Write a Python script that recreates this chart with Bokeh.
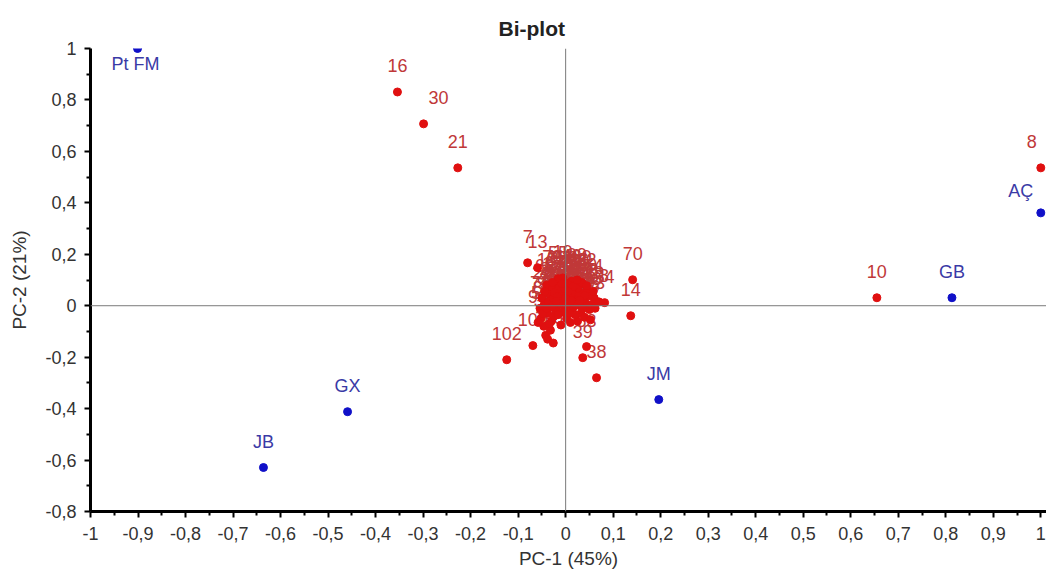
from bokeh.plotting import figure
from bokeh.models import ColumnDataSource, Range1d, FixedTicker, Span
from bokeh.core.properties import value
from bokeh.embed import file_html
from bokeh.resources import INLINE

# ---- variables (loadings), blue ----
var_names = ["Pt FM", "AÇ", "GB", "JM", "GX", "JB"]
var_pc1 = [-0.901, 1.000, 0.813, 0.196, -0.459, -0.636]
var_pc2 = [1.000, 0.361, 0.031, -0.365, -0.412, -0.629]

# ---- observations (scores), red ----
obs_names = [
    "7", "13", "16", "30", "21", "8", "10", "70", "14", "102", "39", "38",
    "1", "2", "3", "4", "5", "6", "9", "11", "12", "15", "17", "18", "19", "20",
    "22", "23", "24", "25", "26", "27", "28", "29", "31", "32", "33", "34", "35",
    "36", "37", "40", "41", "42", "43", "44", "45", "46", "47", "48", "49", "50",
    "51", "52", "53", "54", "55", "56", "57", "58", "59", "60", "61", "62", "63",
    "64", "65", "66", "67", "68", "69", "71", "72", "73", "74", "75", "76", "77",
    "78", "79", "80", "81", "82", "83", "84", "85", "86", "87", "88", "89", "90",
    "91", "92", "93", "94", "95", "96", "97", "98", "99", "100", "101",
]
obs_pc1 = [
    -0.080, -0.059, -0.354, -0.299, -0.227, 1.000, 0.655, 0.141, 0.137, -0.124, 0.036, 0.065,
    -0.012, -0.045, 0.021, -0.030, 0.008, -0.038, 0.035, -0.020, 0.015, -0.040, -0.028, 0.042, -0.006, 0.028,
    -0.050, 0.002, -0.018, 0.050, -0.034, 0.018, -0.008, 0.060, -0.024, 0.010, -0.002, 0.032, -0.046,
    0.025, -0.014, 0.045, -0.036, 0.006, -0.010, 0.038, -0.026, 0.012, -0.042, 0.055, -0.004, 0.030,
    -0.020, 0.020, -0.052, 0.082, -0.016, 0.004, -0.032, 0.048, -0.006, 0.015, -0.030, 0.040, -0.044,
    0.026, -0.012, 0.000, -0.024, 0.070, 0.034, -0.038, 0.010, -0.054, 0.058, -0.002, 0.022, -0.018,
    0.036, -0.028, 0.008, -0.048, 0.044, 0.044, 0.016, -0.034, 0.002, 0.052, -0.020, 0.028, -0.040,
    0.012, -0.008, 0.062, -0.058, 0.006, -0.026, 0.040, -0.016, 0.024, -0.069, 0.030,
]
obs_pc2 = [
    0.167, 0.148, 0.831, 0.707, 0.536, 0.536, 0.031, 0.101, -0.039, -0.210, -0.202, -0.280,
    0.045, 0.005, 0.022, -0.060, 0.072, -0.030, 0.048, 0.090, -0.010, 0.080, 0.065, 0.010, 0.108, 0.080,
    0.030, -0.050, 0.000, -0.015, 0.045, 0.058, 0.020, 0.030, -0.040, 0.035, -0.010, -0.030, -0.080,
    -0.060, 0.070, 0.060, 0.015, 0.010, -0.075, 0.025, 0.030, 0.095, -0.115, 0.005, 0.050, 0.000,
    -0.020, -0.035, -0.050, 0.012, 0.105, 0.085, -0.095, 0.038, -0.025, 0.045, -0.005, -0.045, 0.055,
    0.070, 0.012, 0.030, 0.050, 0.015, 0.090, -0.130, -0.065, -0.010, 0.055, 0.065, 0.005, 0.035,
    -0.012, 0.090, -0.030, -0.030, 0.078, -0.159, 0.075, -0.070, 0.005, -0.055, 0.018, 0.038, -0.010,
    0.020, 0.085, -0.010, -0.065, 0.055, -0.145, 0.040, -0.035, 0.100, -0.155, 0.020,
]

# ---- axis ticks ----
x_ticks = [-1, -0.9, -0.8, -0.7, -0.6, -0.5, -0.4, -0.3, -0.2, -0.1, 0,
           0.1, 0.2, 0.3, 0.4, 0.5, 0.6, 0.7, 0.8, 0.9, 1]
x_tick_labels = ["-1", "-0,9", "-0,8", "-0,7", "-0,6", "-0,5", "-0,4", "-0,3", "-0,2", "-0,1", "0",
                 "0,1", "0,2", "0,3", "0,4", "0,5", "0,6", "0,7", "0,8", "0,9", "1"]
y_ticks = [-0.8, -0.6, -0.4, -0.2, 0, 0.2, 0.4, 0.6, 0.8, 1]
y_tick_labels = ["-0,8", "-0,6", "-0,4", "-0,2", "0", "0,2", "0,4", "0,6", "0,8", "1"]

FONT = "Liberation Sans"
RED_PT, RED_TXT = "#e01010", "#c03838"
BLUE_PT, BLUE_TXT = "#1010c8", "#3a3aa6"

# label offsets (pixels); default sits just above the point
special_offsets = {"Pt FM": (-2, 15), "AÇ": (-20, -22), "8": (-9, -26), "30": (15, -26)}


def offsets(names):
    dx = [special_offsets.get(n, (0, -26))[0] for n in names]
    dy = [special_offsets.get(n, (0, -26))[1] for n in names]
    return dx, dy


odx, ody = offsets(obs_names)
vdx, vdy = offsets(var_names)
obs_src = ColumnDataSource(dict(x=obs_pc1, y=obs_pc2, name=obs_names, dx=odx, dy=ody))
var_src = ColumnDataSource(dict(x=var_pc1, y=var_pc2, name=var_names, dx=vdx, dy=vdy))

p = figure(width=1046, height=576, x_range=Range1d(-1, 1.012), y_range=Range1d(-0.8, 1.0),
           output_backend="svg", toolbar_location=None, title="Bi-plot",
           min_border_left=90, min_border_right=0, min_border_top=48, min_border_bottom=65)
p.outline_line_color = None
p.xgrid.visible = False
p.ygrid.visible = False
p.background_fill_color = "white"
p.border_fill_color = "white"

# chart title
p.title.align = "left"
p.title.offset = 408
p.title.text_font = FONT
p.title.text_font_size = "21px"
p.title.text_font_style = "bold"
p.title.text_color = "#222222"
p.title.standoff = 17

# axes
x_minor = [round(-0.95 + 0.1 * i, 2) for i in range(20)]
y_minor = [round(-0.7 + 0.2 * i, 2) for i in range(9)]
p.xaxis.ticker = FixedTicker(ticks=x_ticks, minor_ticks=x_minor)
p.yaxis.ticker = FixedTicker(ticks=y_ticks, minor_ticks=y_minor)
p.xaxis.major_label_overrides = dict(zip(x_ticks, x_tick_labels))
p.yaxis.major_label_overrides = dict(zip(y_ticks, y_tick_labels))
p.xaxis.axis_label = "PC-1 (45%)"
p.yaxis.axis_label = "PC-2 (21%)"
for ax in (p.xaxis, p.yaxis):
    ax.axis_line_color = "black"
    ax.axis_line_width = 3
    ax.major_tick_line_color = "black"
    ax.minor_tick_line_color = "black"
    ax.major_tick_line_width = 2
    ax.minor_tick_line_width = 2
    ax.major_tick_in = 0
    ax.minor_tick_in = 0
    ax.major_tick_out = 6
    ax.minor_tick_out = 4
    ax.major_label_text_font = FONT
    ax.major_label_text_font_size = "18px"
    ax.major_label_text_color = "#333333"
    ax.axis_label_text_font = FONT
    ax.axis_label_text_font_size = "19px"
    ax.axis_label_text_font_style = "normal"
    ax.axis_label_text_color = "#333333"
p.xaxis.major_label_standoff = 9
p.xaxis.axis_label_standoff = 5
p.yaxis.major_label_standoff = 8
p.yaxis.axis_label_standoff = 12

# zero reference lines
p.add_layout(Span(location=0, dimension="height", line_color="#7a7a7a", line_width=1))
p.add_layout(Span(location=0, dimension="width", line_color="#7a7a7a", line_width=1))

# labels first, markers on top
p.text(x="x", y="y", text="name", source=obs_src, x_offset="dx", y_offset="dy",
       text_align="center", text_baseline="middle", text_font=value(FONT),
       text_font_size="18px", text_color=RED_TXT)
p.text(x="x", y="y", text="name", source=var_src, x_offset="dx", y_offset="dy",
       text_align="center", text_baseline="middle", text_font=value(FONT),
       text_font_size="18px", text_color=BLUE_TXT)
p.scatter(x="x", y="y", source=obs_src, size=8, fill_color=RED_PT, line_color=RED_PT)
p.scatter(x="x", y="y", source=var_src, size=8, fill_color=BLUE_PT, line_color=BLUE_PT)

open("out.html", "w").write(file_html(p, INLINE))
